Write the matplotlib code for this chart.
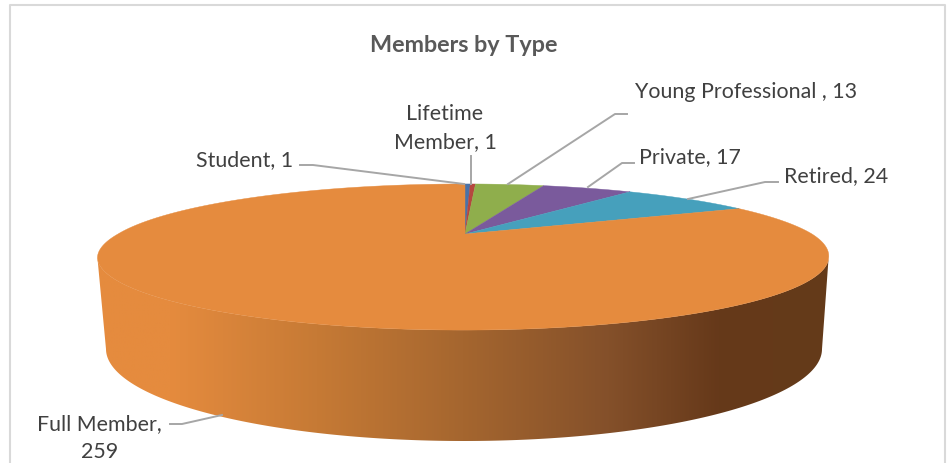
import numpy as np
import matplotlib
matplotlib.use("Agg")
import matplotlib.pyplot as plt
from matplotlib.colors import LinearSegmentedColormap
from matplotlib.patches import Polygon

categories = ["Student", "Lifetime Member", "Young Professional", "Private", "Retired", "Full Member"]
values = [1, 1, 13, 17, 24, 259]
colors = ["#4A72A8", "#B5473F", "#8FAE4C", "#7A5A9C", "#46A0BC", "#E58B3E"]
label_texts = ["Student, 1", "Lifetime\nMember, 1", "Young Professional , 13",
               "Private, 17", "Retired, 24", "Full Member,\n259"]
title = "Members by Type"

W, H = 947, 464
CX, CY = 465.0, 235.0
RX, RY, K = 347.0, 65.8, 0.315
plt.rcParams["font.family"] = ["Lato", "DejaVu Sans"]

fig = plt.figure(figsize=(W / 100, H / 100), dpi=100)
ax = fig.add_axes([0, 0, 1, 1])
ax.set_xlim(0, W)
ax.set_ylim(H, 0)
ax.axis("off")


def project(theta):
    """theta: clockwise from top, radians; perspective view of the pie's top face."""
    u, v = np.sin(theta), np.cos(theta)
    d = 1 + K * v
    lean = -2.0 * np.clip(-v / 0.33, 0, 1)
    return CX + lean + RX * u / d, CY - RY * v / d


# frame
ax.plot([9.5, 9.5, 945, 945], [H, 5.5, 5.5, H], color="#D9D9D9", lw=1.5)

# side wall
tx, ty = project(np.linspace(0, 2 * np.pi, 721))
right = int(np.argmax(tx))
left = int(np.argmin(tx))
front_x, front_y = tx[right:left + 1], ty[right:left + 1]
phi = np.linspace(np.pi, 0, 200)
bx = 464 + 358 * np.cos(phi)
by = 350 + 92 * np.sin(phi)
side_xy = np.vstack([np.column_stack([front_x, front_y]), np.column_stack([bx, by])])
side = Polygon(side_xy, closed=True, facecolor="none", edgecolor="none")
ax.add_patch(side)
cmap = LinearSegmentedColormap.from_list(
    "side", [(0.0, "#E58B3E"), (0.1, "#E58B3E"), (0.3, "#C67A35"), (0.5, "#A5662F"),
             (0.7, "#84502A"), (0.85, "#66391A"), (1.0, "#643B19")])
im = ax.imshow(np.linspace(0, 1, 256).reshape(1, -1), cmap=cmap, aspect="auto",
               extent=[97, 829, 460, 180], zorder=2)
im.set_clip_path(side)
ax.set_xlim(0, W)
ax.set_ylim(H, 0)

# wedges of the top face
total = sum(values)
cum = 0
for val, col in zip(values, colors):
    a0, a1 = 2 * np.pi * cum / total, 2 * np.pi * (cum + val) / total
    th = np.linspace(a0, a1, max(8, int(val * 6)))
    px, py = project(th)
    ax.fill(np.r_[CX, px], np.r_[CY, py], color=col, lw=0.3, zorder=3)
    cum += val

# leader lines
leaders = [
    [(300, 166), (313, 166), (464, 185)],
    [(471, 157), (471, 185)],
    [(627, 115), (615, 115), (508, 185)],
    [(634, 164), (622, 164), (588, 188)],
    [(778, 183), (765, 183), (688, 200)],
    [(170, 425), (182, 425), (222, 416)],
]
for pts in leaders:
    xs, ys = zip(*pts)
    ax.plot(xs, ys, color="#A6A6A6", lw=1.4, zorder=4)

# labels
pos = [(245, 160), (445, 128), (746, 92), (690, 157), (836, 176), (99.5, 438)]
for txt, (x, y) in zip(label_texts, pos):
    ax.text(x, y, txt, ha="center", va="center", fontsize=15.4, color="#404040",
            linespacing=1.5, zorder=5)
ax.text(463.5, 45.5, title, ha="center", va="center", fontsize=16.8,
        fontweight="bold", color="#595959")

fig.savefig("out.png", dpi=100)
